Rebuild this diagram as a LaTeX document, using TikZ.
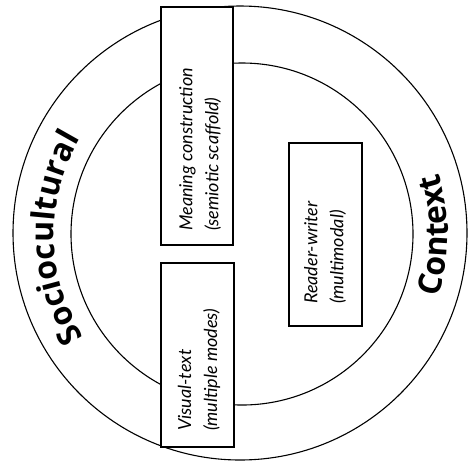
\documentclass[tikz,border=0pt]{standalone}
\usepackage{fontspec}
\usetikzlibrary{decorations.text}
\setmainfont{Lato}
\newfontfamily\bigsans{Open Sans}
\begin{document}
\begin{tikzpicture}[x=1pt,y=-1pt,
  ring/.style={draw=black,line width=1.1pt},
  boxed/.style={draw=black,fill=white,line width=1.1pt},
  boxtext/.style={rotate=90,anchor=west,align=left,inner sep=0pt,
    font=\fontsize{18}{26}\selectfont\itshape},
  arctext/.style={decorate,decoration={text along path,text align=center,
    text={|\bigsans\bfseries\fontsize{32}{38}\selectfont|#1}}}]
\useasboundingbox (0,0) rectangle (468,467);
\draw[ring] (240,233) circle[radius=227];
\draw[ring] (242,234) circle[radius=171];
\path[boxed] (161,7) rectangle (233,245);
\path[boxed] (161,263) rectangle (234,447);
\path[boxed] (289,143) rectangle (362,326);
\node[boxtext] (mc) at (200,231) {Meaning construction\\(semiotic scaffold)};
\node[boxtext] (vt) at (199,431) {Visual-text\\(multiple modes)};
\node[boxtext] (rw) at (325,304) {Reader-writer\\(multimodal)};
\begin{scope}[shift={(242,235)},x=1pt,y=1pt]
  \coordinate (cen) at (0,0);
  \path[arctext={Sociocultural}] (218:188) arc[start angle=218,end angle=144,radius=188];
  \path[arctext={Context}] (-36:206) arc[start angle=-36,end angle=36,radius=206];
\end{scope}
\end{tikzpicture}
\end{document}
